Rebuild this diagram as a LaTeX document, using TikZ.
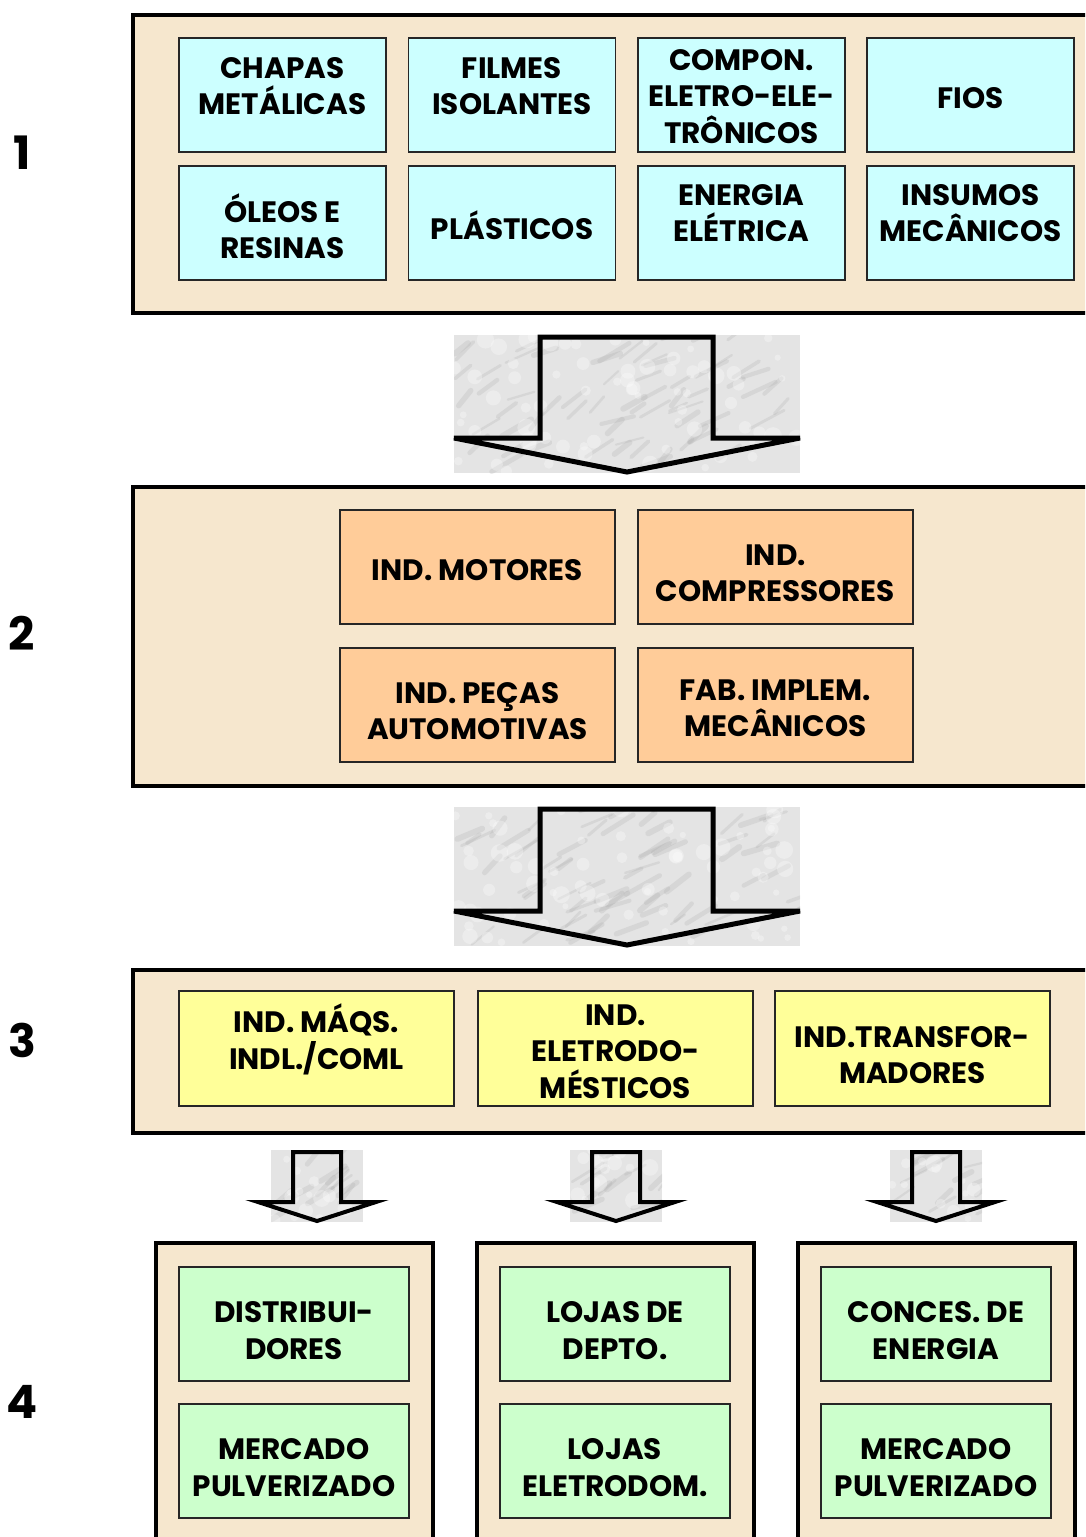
\documentclass[tikz,border=0pt]{standalone}
\usepackage{fontspec}
\setmainfont{Poppins}
\definecolor{parch}{HTML}{F6E7CE}
\definecolor{cy}{HTML}{CCFFFF}
\definecolor{orng}{HTML}{FFCC99}
\definecolor{yel}{HTML}{FFFF99}
\definecolor{grn}{HTML}{CCFFCC}
\definecolor{marble}{HTML}{E4E4E4}
\tikzset{
  frame/.style={draw=black, line width=4.5pt, fill=parch, inner sep=0pt, outer sep=0pt},
  cell/.style={draw=black!85, line width=1.3pt, align=center, inner sep=0pt, outer sep=0pt,
    font=\fontsize{29.5}{36.5}\selectfont\bfseries},
  cyc/.style={cell, fill=cy, minimum width=207pt, minimum height=114pt},
  orc/.style={cell, fill=orng, minimum width=275pt, minimum height=114pt},
  yec/.style={cell, fill=yel, minimum width=275pt, minimum height=115pt},
  grc/.style={cell, fill=grn, minimum width=230pt, minimum height=114pt},
  txt/.style={align=center, inner sep=0pt, font=\fontsize{29.5}{36.5}\selectfont\bfseries},
  lvl/.style={font=\fontsize{46}{46}\selectfont\bfseries},
  arrowline/.style={draw=black, line join=miter},
}
% marble texture: x1 y1 x2 y2 count
\newcommand{\marblerect}[5]{%
  \fill[marble] (#1,#2) rectangle (#3,#4);
  \begin{scope}
    \clip (#1,#2) rectangle (#3,#4);
    \foreach \i in {1,...,#5} {
      \draw[gray!70, opacity=0.22, line width={2+4*rnd}, line cap=round]
        ({(#1)+((#3)-(#1))*rnd},{(#2)+((#4)-(#2))*rnd}) -- ++({12+22*rnd},{-7-12*rnd});
    }
    \foreach \i in {1,...,#5} {
      \fill[white, opacity=0.3] ({(#1)+((#3)-(#1))*rnd},{(#2)+((#4)-(#2))*rnd}) circle ({3+6*rnd});
    }
  \end{scope}
}
% cell with shifted text: style, name, x, y, dy, text
\newcommand{\cellat}[6]{%
  \node[#1] (#2) at (#3,#4) {};
  \node[txt] (#2t) at (#3,#4+#5) {#6};
}
\begin{document}
\begin{tikzpicture}[x=1pt,y=-1pt]
\pgfmathsetseed{11}
\useasboundingbox (0,0) rectangle (1085,1537);
\fill[white] (0,0) rectangle (1085,1537);
\clip (0,0) rectangle (1085,1537);

% level labels
\node[lvl] (L1) at (22,153) {1};
\node[lvl] (L2) at (22,633) {2};
\node[lvl] (L3) at (22,1040) {3};
\node[lvl] (L4) at (22,1402) {4};

% frame 1
\node[frame, minimum width=967pt, minimum height=298pt, anchor=north west] (F1) at (133,15) {};
\cellat{cyc}{a1}{282.5}{95}{-9}{CHAPAS\\METÁLICAS}
\cellat{cyc}{a2}{512}{95}{-9}{FILMES\\ISOLANTES}
\cellat{cyc}{a3}{741.5}{95}{1.5}{COMPON.\\ELETRO-ELE-\\TRÔNICOS}
\cellat{cyc}{a4}{970.5}{95}{3}{FIOS}
\cellat{cyc}{a5}{282.5}{223}{3}{ÓLEOS E\\RESINAS}
\cellat{cyc}{a6}{512}{223}{2}{PLÁSTICOS}
\cellat{cyc}{a7}{741.5}{223}{-10}{ENERGIA\\ELÉTRICA}
\cellat{cyc}{a8}{970.5}{223}{-10}{INSUMOS\\MECÂNICOS}

% arrow 1
\marblerect{454}{335}{800}{473}{70}
\draw[arrowline, line width=5pt]
  (540,438) -- (540,337) -- (713,337) -- (713,438) -- (800,438) -- (627,472) -- (454,438) -- cycle;

% frame 2
\node[frame, minimum width=967pt, minimum height=299pt, anchor=north west] (F2) at (133,487) {};
\cellat{orc}{b1}{477.5}{567}{3}{IND. MOTORES}
\cellat{orc}{b2}{775.5}{567}{6}{IND.\\COMPRESSORES}
\cellat{orc}{b3}{477.5}{705}{6}{IND. PEÇAS\\AUTOMOTIVAS}
\cellat{orc}{b4}{775.5}{705}{3}{FAB. IMPLEM.\\MECÂNICOS}

% arrow 2
\marblerect{454}{807}{800}{946}{70}
\draw[arrowline, line width=5pt]
  (540,911) -- (540,809) -- (713,809) -- (713,911) -- (800,911) -- (627,945) -- (454,911) -- cycle;

% frame 3
\node[frame, minimum width=967pt, minimum height=163pt, anchor=north west] (F3) at (133,970) {};
\cellat{yec}{c1}{316.5}{1048.5}{-9}{IND. MÁQS.\\INDL./COML}
\cellat{yec}{c2}{615.5}{1048.5}{3}{IND.\\ELETRODO-\\MÉSTICOS}
\cellat{yec}{c3}{912.5}{1048.5}{6.5}{IND.TRANSFOR-\\MADORES}

% small arrows
\foreach \cx in {317,616,936} {
  \marblerect{\cx-46}{1150}{\cx+46}{1222}{14}
  \draw[arrowline, line width=4pt]
    (\cx-24,1202) -- (\cx-24,1152) -- (\cx+24,1152) -- (\cx+24,1202) -- (\cx+59,1202)
    -- (\cx,1221) -- (\cx-59,1202) -- cycle;
}

% frame 4
\node[frame, minimum width=277pt, minimum height=310pt, anchor=north west] (G1) at (156,1243) {};
\node[frame, minimum width=277pt, minimum height=310pt, anchor=north west] (G2) at (477,1243) {};
\node[frame, minimum width=277pt, minimum height=310pt, anchor=north west] (G3) at (798,1243) {};
\cellat{grc}{d1}{294}{1324}{6.5}{DISTRIBUI-\\DORES}
\cellat{grc}{d2}{294}{1461}{6.5}{MERCADO\\PULVERIZADO}
\cellat{grc}{d3}{615}{1324}{6.5}{LOJAS DE\\DEPTO.}
\cellat{grc}{d4}{615}{1461}{6.5}{LOJAS\\ELETRODOM.}
\cellat{grc}{d5}{936}{1324}{6.5}{CONCES. DE\\ENERGIA}
\cellat{grc}{d6}{936}{1461}{6.5}{MERCADO\\PULVERIZADO}
\end{tikzpicture}
\end{document}
